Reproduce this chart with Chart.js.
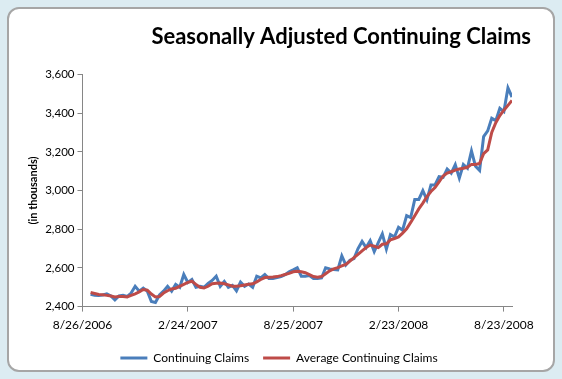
<!DOCTYPE html>
<html lang="en">
<head>
    <meta charset="UTF-8">
    <title>Seasonally Adjusted Continuing Claims</title>
    <style>
        html, body { margin: 0; padding: 0; }
        body { width: 562px; height: 379px; background: #dcecf2; position: relative; overflow: hidden; }
        .frame {
            position: absolute; left: 7px; top: 7px; width: 544px; height: 361px;
            background: #fff; border: 2px solid #a6a6a6; border-radius: 12px;
        }
        .wrap { position: absolute; left: 0; top: 0; width: 562px; height: 379px; }
    </style>
</head>
<body>
    <div class="frame"></div>
    <div class="wrap"><canvas id="myChart" width="562" height="379"></canvas></div>

    <script src="https://cdn.jsdelivr.net/npm/chart.js@4/dist/chart.umd.min.js"></script>
    <script>
        // weekly readings, first one the week of 9/9/2006
        var firstWeek = '9/9/2006'
        var axisStart = '8/26/2006'
        var tickLabels = ['8/26/2006', '2/24/2007', '8/25/2007', '2/23/2008', '8/23/2008']

        var claims = [
            2464, 2459, 2457, 2460, 2466, 2455, 2435, 2455, 2458, 2452,
            2470, 2505, 2480, 2496, 2480, 2426, 2421, 2460, 2480, 2505,
            2480, 2515, 2500, 2566, 2525, 2540, 2500, 2505, 2500, 2520,
            2535, 2557, 2505, 2530, 2500, 2510, 2482, 2527, 2505, 2517,
            2500, 2557, 2548, 2566, 2545, 2545, 2550, 2555, 2565, 2580,
            2590, 2601, 2557, 2557, 2560, 2545, 2545, 2548, 2601, 2595,
            2592, 2590, 2662, 2615, 2640, 2648, 2700, 2737, 2705, 2740,
            2684, 2730, 2776, 2697, 2772, 2760, 2810, 2795, 2870, 2860,
            2954, 2954, 2999, 2952, 3029, 3029, 3072, 3068, 3111, 3090,
            3134, 3064, 3134, 3115, 3204, 3125, 3104, 3279, 3308, 3373,
            3361, 3425, 3408, 3530, 3483
        ]

        var avgClaims = [
            2473, 2468, 2463, 2461, 2458, 2455, 2450, 2452, 2452, 2450,
            2458, 2466, 2476, 2488, 2485, 2465, 2450, 2452, 2470, 2482,
            2491, 2495, 2505, 2515, 2525, 2531, 2515, 2500, 2496, 2505,
            2518, 2521, 2522, 2518, 2512, 2505, 2505, 2508, 2512, 2515,
            2518, 2528, 2540, 2550, 2552, 2553, 2555, 2560, 2566, 2572,
            2580, 2583, 2580, 2575, 2565, 2555, 2552, 2555, 2570, 2585,
            2595, 2601, 2610, 2618, 2635, 2653, 2670, 2688, 2705, 2718,
            2712, 2705, 2722, 2725, 2745, 2752, 2760, 2780, 2802, 2835,
            2870, 2905, 2935, 2968, 2995, 3015, 3045, 3075, 3090, 3097,
            3105, 3111, 3115, 3120, 3135, 3135, 3140, 3190, 3210, 3300,
            3350, 3387, 3415, 3440, 3465
        ]

        var DAY = 24 * 3600 * 1000
        function weeksFrom(d) {
            return Math.round((new Date(d) - new Date(axisStart)) / (7 * DAY))
        }
        var x0 = weeksFrom(firstWeek)
        function toPoints(arr) {
            return arr.map((v, i) => ({ x: x0 + i, y: v }))
        }
        var tickWeeks = tickLabels.map(weeksFrom)
        var lastWeek = x0 + claims.length - 1

        var font = "Lato, 'Open Sans', sans-serif"
        var axisGrey = '#868686'

        var ctx = document.getElementById('myChart');
        var myChart = new Chart(ctx, {
            type: 'line',
            data: {
                datasets: [{
                    label: 'Continuing Claims',
                    data: toPoints(claims),
                    borderColor: '#4a7ebb',
                    backgroundColor: '#4a7ebb',
                    borderWidth: 3,
                    pointRadius: 0,
                    tension: 0,
                    order: 1
                }, {
                    label: 'Average Continuing Claims',
                    data: toPoints(avgClaims),
                    borderColor: '#be4b48',
                    backgroundColor: '#be4b48',
                    borderWidth: 3,
                    pointRadius: 0,
                    tension: 0,
                    order: 0
                }]
            },
            options: {
                responsive: false,
                animation: false,
                layout: { padding: { left: 27, right: 31, top: 24, bottom: 5 } },
                plugins: {
                    title: {
                        display: true,
                        text: 'Seasonally Adjusted Continuing Claims',
                        align: 'end',
                        color: '#000',
                        font: { family: font, size: 22, weight: 'bold' },
                        padding: { top: 0, bottom: 24 }
                    },
                    legend: {
                        position: 'bottom',
                        labels: {
                            usePointStyle: true,
                            pointStyle: 'line',
                            pointStyleWidth: 27,
                            color: '#000',
                            font: { family: font, size: 12 },
                            padding: 14,
                            sort: (a, b) => a.datasetIndex - b.datasetIndex
                        }
                    },
                    tooltip: { enabled: false }
                },
                scales: {
                    x: {
                        type: 'linear',
                        min: 0,
                        max: lastWeek,
                        afterBuildTicks: (scale) => {
                            scale.ticks = tickWeeks.map(v => ({ value: v }))
                        },
                        afterFit: (scale) => {
                            // plot ends short of the title's right edge
                            scale.paddingRight = 50
                        },
                        ticks: {
                            autoSkip: false,
                            maxRotation: 0,
                            color: '#000',
                            font: { family: font, size: 12 },
                            padding: 6,
                            callback: (v, i) => tickLabels[i]
                        },
                        grid: { drawOnChartArea: false, color: axisGrey, tickLength: 5 },
                        border: { color: axisGrey }
                    },
                    y: {
                        min: 2400,
                        max: 3600,
                        ticks: {
                            stepSize: 200,
                            color: '#000',
                            font: { family: font, size: 11.5 },
                            padding: 3,
                            callback: v => v.toLocaleString('en-US')
                        },
                        title: {
                            display: true,
                            text: '(in thousands)',
                            color: '#000',
                            font: { family: font, size: 11, weight: 'bold' },
                            padding: { top: 0, bottom: 2 }
                        },
                        grid: { drawOnChartArea: false, color: axisGrey, tickLength: 5 },
                        border: { color: axisGrey }
                    }
                }
            }
        })
    </script>
</body>
</html>
